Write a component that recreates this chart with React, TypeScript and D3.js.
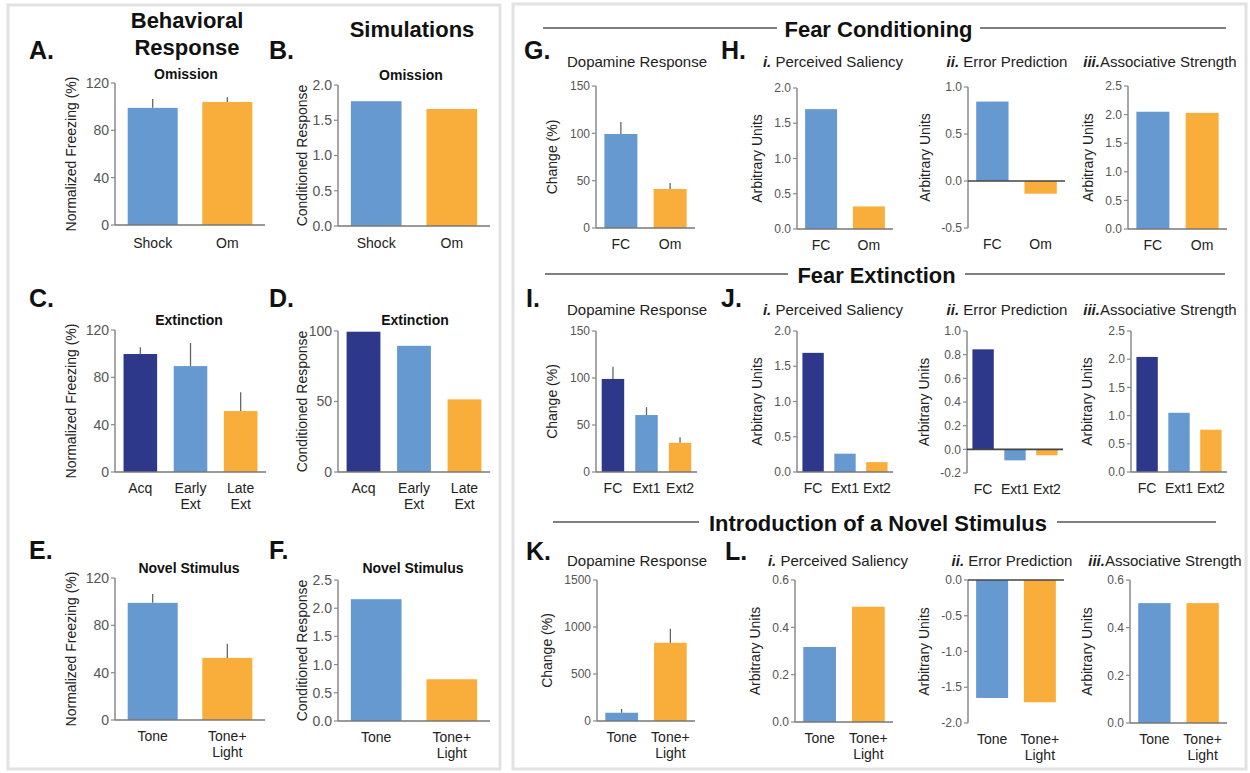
import * as d3 from "d3";

// colours used in the figure
const NAVY = "#2e388b";
const BLUE = "#6699cf";
const ORANGE = "#f9ad3a";

// ---- left side: behaviour vs simulation ----
const omissionCats = ["Shock", "Om"];
const freezingOmission = [99, 104];
const freezingOmissionErr = [106.5, 108];
const simOmission = [1.77, 1.66];

const extinctionCats = ["Acq", "Early\nExt", "Late\nExt"];
const freezingExtinction = [99.7, 89.5, 51.5];
const freezingExtinctionErr = [105.5, 109, 67.5];
const simExtinction = [99.5, 89.5, 51.5];

const novelCats = ["Tone", "Tone+\nLight"];
const freezingNovel = [99, 52.5];
const freezingNovelErr = [106.5, 64.5];
const simNovel = [2.16, 0.74];

// ---- right side: fear conditioning ----
const fcCats = ["FC", "Om"];
const dopamineFC = [99.3, 41.2];
const dopamineFCErr = [112, 47.5];
const salienceFC = [1.7, 0.32];
const errorFC = [0.845, -0.135];
const assocFC = [2.05, 2.03];

// ---- fear extinction ----
const extCats = ["FC", "Ext1", "Ext2"];
const dopamineExt = [99, 60.6, 31];
const dopamineExtErr = [112, 69, 37];
const salienceExt = [1.69, 0.26, 0.14];
const errorExt = [0.845, -0.093, -0.05];
const assocExt = [2.04, 1.05, 0.75];

// ---- novel stimulus ----
const toneCats = ["Tone", "Tone+\nLight"];
const dopamineNovel = [88, 832];
const dopamineNovelErr = [128, 980];
const salienceNovel = [0.317, 0.487];
const errorNovel = [-1.65, -1.71];
const assocNovel = [0.503, 0.503];

// tick values
const freezingTicks = [0, 40, 80, 120];
const sim2Ticks = [0, 0.5, 1, 1.5, 2];
const sim25Ticks = [0, 0.5, 1, 1.5, 2, 2.5];
const simExtTicks = [0, 50, 100];
const dopamineTicks = [0, 50, 100, 150];
const dopamineNovelTicks = [0, 500, 1000, 1500];
const errFCTicks = [-0.5, 0, 0.5, 1];
const errExtTicks = [-0.2, 0, 0.2, 0.4, 0.6, 0.8, 1];
const smallTicks = [0, 0.2, 0.4, 0.6];
const errNovelTicks = [-2, -1.5, -1, -0.5, 0];

const intFmt = (v) => d3.format("d")(v);
const decFmt = (v) => v.toFixed(1);

const Panel = (p) => {
    const y = d3.scaleLinear().domain(p.domain).range([p.bottom, p.top]);
    const x = d3.scaleBand()
        .domain(p.cats)
        .range([p.x0, p.x1])
        .paddingInner(0.33)
        .paddingOuter(0.17);
    const colors = p.cats.length === 3 ? [NAVY, BLUE, ORANGE] : [BLUE, ORANGE];
    const y0 = y(0);
    const negative = p.domain[0] < 0;
    const fmt = p.fmt || intFmt;
    const tickSize = p.tickSize || 12;
    const dx = p.labelDx || -37;
    return (
        <g>
            {p.values.map((v, i) => (
                <rect key={i}
                    x={x(p.cats[i])}
                    y={Math.min(y(v), y0)}
                    width={x.bandwidth()}
                    height={Math.abs(y(v) - y0)}
                    fill={colors[i]} />
            ))}
            {p.errs && p.errs.map((e, i) => (
                <line key={i}
                    x1={x(p.cats[i]) + x.bandwidth() / 2}
                    x2={x(p.cats[i]) + x.bandwidth() / 2}
                    y1={y(p.values[i])} y2={y(e)}
                    stroke="#666" strokeWidth={1.3} />
            ))}
            <line x1={p.x0} x2={p.x0} y1={y(p.domain[1])} y2={y(p.domain[0])}
                stroke="#8a8a8a" strokeWidth={1.5} />
            {p.ticks.map((t) => (
                <g key={t}>
                    <line x1={p.x0 - 4} x2={p.x0} y1={y(t)} y2={y(t)} stroke="#8a8a8a" strokeWidth={1.2} />
                    <text x={p.x0 - 6} y={y(t)} dy="0.35em" textAnchor="end"
                        fontSize={tickSize} fill="#555">{fmt(t)}</text>
                </g>
            ))}
            <line x1={p.x0} x2={p.x1} y1={y0} y2={y0}
                stroke={negative ? "#444" : "#777"} strokeWidth={1.6} />
            {p.cats.map((c, i) => (
                <text key={c} x={x(c) + x.bandwidth() / 2} y={p.bottom + (p.labelGap || 21)}
                    textAnchor="middle" fontSize={14} fill="#222">
                    {c.split("\n").map((line, j) => (
                        <tspan key={j} x={x(c) + x.bandwidth() / 2} dy={j === 0 ? 0 : 16}>{line}</tspan>
                    ))}
                </text>
            ))}
            <text transform={`translate(${p.x0 + dx},${(p.top + p.bottom) / 2}) rotate(-90)`}
                textAnchor="middle" fontSize={14} fill="#222">{p.ylabel}</text>
        </g>
    );
};

const Letter = ({ x, y, t }) => (
    <text x={x} y={y} fontSize={25} fontWeight="bold" fill="#111">{t}</text>
);

const LeftTitle = ({ x, y, t }) => (
    <text x={x} y={y} fontSize={14} fontWeight="bold" textAnchor="middle" fill="#111">{t}</text>
);

const RightTitle = ({ x, y, num, t }) => (
    <text x={x} y={y} fontSize={15} textAnchor="middle" fill="#222">
        {num && <tspan fontWeight="bold" fontStyle="italic">{num}</tspan>}
        {t}
    </text>
);

const Header = ({ y, l1, l2, r1, r2, t, w }) => (
    <g>
        <line x1={l1} x2={l2} y1={y} y2={y} stroke="#555" strokeWidth={1.5} />
        <line x1={r1} x2={r2} y1={y} y2={y} stroke="#555" strokeWidth={1.5} />
        <text x={(l2 + r1) / 2} y={y + 9} textAnchor="middle" fontSize={22} fontWeight="bold"
            fill="#111" textLength={w} lengthAdjust="spacingAndGlyphs">{t}</text>
    </g>
);

const App = () => (
    <svg width={1250} height={773} style={{ position: "absolute", left: 0, top: 0, background: "#fff" }}
        fontFamily="Liberation Sans, Arial, sans-serif">
        <rect x={8} y={5} width={492} height={764} fill="none" stroke="#e2e2e2" strokeWidth={3} />
        <rect x={513} y={4} width={733} height={765} fill="none" stroke="#e2e2e2" strokeWidth={3} />

        {/* left headers */}
        <text x={187} y={28} textAnchor="middle" fontSize={22} fontWeight="bold" fill="#111">Behavioral</text>
        <text x={187} y={55} textAnchor="middle" fontSize={22} fontWeight="bold" fill="#111">Response</text>
        <text x={412} y={37} textAnchor="middle" fontSize={22} fontWeight="bold" fill="#111">Simulations</text>

        <Letter x={29} y={59} t="A." />
        <Letter x={269} y={59} t="B." />
        <LeftTitle x={186} y={79} t="Omission" />
        <LeftTitle x={411} y={80} t="Omission" />
        <Panel x0={115} x1={265} top={83} bottom={225} domain={[0, 120]} ticks={freezingTicks}
            cats={omissionCats} values={freezingOmission} errs={freezingOmissionErr}
            tickSize={14} labelDx={-39} labelGap={23} ylabel="Normalized Freezing (%)" />
        <Panel x0={338} x1={490} top={85} bottom={226} domain={[0, 2]} ticks={sim2Ticks} fmt={decFmt}
            cats={omissionCats} values={simOmission}
            tickSize={14} labelDx={-31} labelGap={22} ylabel="Conditioned Response" />

        <Letter x={29} y={307} t="C." />
        <Letter x={269} y={307} t="D." />
        <LeftTitle x={189} y={325} t="Extinction" />
        <LeftTitle x={415} y={325} t="Extinction" />
        <Panel x0={115} x1={266} top={330} bottom={472} domain={[0, 120]} ticks={freezingTicks}
            cats={extinctionCats} values={freezingExtinction} errs={freezingExtinctionErr}
            tickSize={14} labelDx={-39} ylabel="Normalized Freezing (%)" />
        <Panel x0={338} x1={490} top={331} bottom={472} domain={[0, 100]} ticks={simExtTicks}
            cats={extinctionCats} values={simExtinction}
            tickSize={14} labelDx={-31} ylabel="Conditioned Response" />

        <Letter x={29} y={559} t="E." />
        <Letter x={269} y={559} t="F." />
        <LeftTitle x={189} y={573} t="Novel Stimulus" />
        <LeftTitle x={413} y={573} t="Novel Stimulus" />
        <Panel x0={115} x1={265} top={578} bottom={720} domain={[0, 120]} ticks={freezingTicks}
            cats={novelCats} values={freezingNovel} errs={freezingNovelErr}
            tickSize={14} labelDx={-39} ylabel="Normalized Freezing (%)" />
        <Panel x0={338} x1={490} top={580} bottom={721} domain={[0, 2.5]} ticks={sim25Ticks} fmt={decFmt}
            cats={novelCats} values={simNovel}
            tickSize={14} labelDx={-31} ylabel="Conditioned Response" />

        {/* right: fear conditioning */}
        <Header y={28} l1={543} l2={777} r1={980} r2={1226} t="Fear Conditioning" w={188} />
        <Letter x={524} y={59} t="G." />
        <Letter x={721} y={59} t="H." />
        <RightTitle x={637} y={67} t="Dopamine Response" />
        <RightTitle x={833} y={67} num="i. " t="Perceived Saliency" />
        <RightTitle x={1007} y={67} num="ii. " t="Error Prediction" />
        <RightTitle x={1160} y={67} num="iii." t="Associative Strength" />
        <Panel x0={596} x1={695} top={86} bottom={228} domain={[0, 150]} ticks={dopamineTicks}
            cats={fcCats} values={dopamineFC} errs={dopamineFCErr} labelDx={-39} ylabel="Change (%)" />
        <Panel x0={797} x1={893} top={88} bottom={229} domain={[0, 2]} ticks={sim2Ticks} fmt={decFmt}
            cats={fcCats} values={salienceFC} labelDx={-35} ylabel="Arbitrary Units" />
        <Panel x0={968} x1={1065} top={87} bottom={228} domain={[-0.5, 1]} ticks={errFCTicks} fmt={decFmt}
            cats={fcCats} values={errorFC} labelDx={-38} ylabel="Arbitrary Units" />
        <Panel x0={1128} x1={1227} top={86} bottom={229} domain={[0, 2.5]} ticks={sim25Ticks} fmt={decFmt}
            cats={fcCats} values={assocFC} labelDx={-35} ylabel="Arbitrary Units" />

        {/* right: fear extinction */}
        <Header y={274} l1={545} l2={788} r1={965} r2={1225} t="Fear Extinction" w={158} />
        <Letter x={526} y={307} t="I." />
        <Letter x={721} y={307} t="J." />
        <RightTitle x={637} y={315} t="Dopamine Response" />
        <RightTitle x={833} y={315} num="i. " t="Perceived Saliency" />
        <RightTitle x={1007} y={315} num="ii. " t="Error Prediction" />
        <RightTitle x={1160} y={315} num="iii." t="Associative Strength" />
        <Panel x0={596} x1={697} top={331} bottom={472} domain={[0, 150]} ticks={dopamineTicks}
            cats={extCats} values={dopamineExt} errs={dopamineExtErr} labelDx={-39} ylabel="Change (%)" />
        <Panel x0={797} x1={893} top={331} bottom={472} domain={[0, 2]} ticks={sim2Ticks} fmt={decFmt}
            cats={extCats} values={salienceExt} labelDx={-35} ylabel="Arbitrary Units" />
        <Panel x0={967} x1={1063} top={331} bottom={473} domain={[-0.2, 1]} ticks={errExtTicks} fmt={decFmt}
            cats={extCats} values={errorExt} labelDx={-38} ylabel="Arbitrary Units" />
        <Panel x0={1131} x1={1227} top={331} bottom={472} domain={[0, 2.5]} ticks={sim25Ticks} fmt={decFmt}
            cats={extCats} values={assocExt} labelDx={-39} ylabel="Arbitrary Units" />

        {/* right: novel stimulus */}
        <Header y={522} l1={553} l2={699} r1={1057} r2={1216} t="Introduction of a Novel Stimulus" w={338} />
        <Letter x={526} y={560} t="K." />
        <Letter x={725} y={560} t="L." />
        <RightTitle x={637} y={566} t="Dopamine Response" />
        <RightTitle x={838} y={566} num="i. " t="Perceived Saliency" />
        <RightTitle x={1012} y={566} num="ii. " t="Error Prediction" />
        <RightTitle x={1165} y={566} num="iii." t="Associative Strength" />
        <Panel x0={597} x1={695} top={580} bottom={721} domain={[0, 1500]} ticks={dopamineNovelTicks}
            cats={toneCats} values={dopamineNovel} errs={dopamineNovelErr} labelDx={-45} ylabel="Change (%)" />
        <Panel x0={795} x1={893} top={580} bottom={722} domain={[0, 0.6]} ticks={smallTicks} fmt={decFmt}
            cats={toneCats} values={salienceNovel} labelDx={-35} ylabel="Arbitrary Units" />
        <Panel x0={968} x1={1064} top={580} bottom={723} domain={[-2, 0]} ticks={errNovelTicks} fmt={decFmt}
            cats={toneCats} values={errorNovel} labelDx={-39} ylabel="Arbitrary Units" />
        <Panel x0={1130} x1={1227} top={580} bottom={723} domain={[0, 0.6]} ticks={smallTicks} fmt={decFmt}
            cats={toneCats} values={assocNovel} labelDx={-38} ylabel="Arbitrary Units" />
    </svg>
);

export default App;
